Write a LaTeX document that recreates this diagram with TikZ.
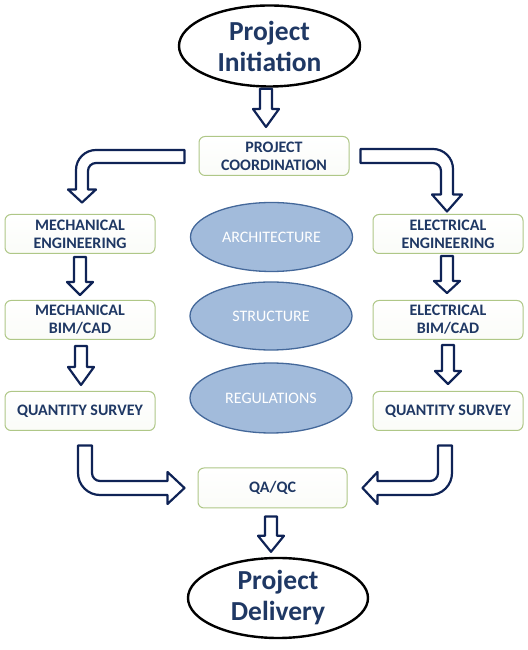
\documentclass[tikz,border=0pt]{standalone}
\usepackage{fontspec}
\setmainfont{Carlito}
\usetikzlibrary{shapes.geometric,calc}
\definecolor{navytext}{HTML}{1F3864}
\definecolor{arrowblue}{HTML}{0F2356}
\definecolor{boxline}{HTML}{AFC787}
\definecolor{ellfill}{HTML}{A2BBDB}
\definecolor{ellline}{HTML}{44689A}
\tikzset{
  endpoint/.style={ellipse, draw=black, line width=2.4pt, fill=white, inner sep=0pt,
    minimum width=181pt, minimum height=81pt, text=navytext, align=center,
    font=\fontsize{27.5}{31}\selectfont\bfseries},
  stepbox/.style={rectangle, rounded corners=6pt, draw=boxline, line width=1pt,
    top color=white, bottom color=white!94!boxline, minimum width=150pt, minimum height=39pt,
    inner sep=0pt, text=navytext, align=center, font=\fontsize{16}{18}\selectfont\bfseries},
  topic/.style={ellipse, draw=ellline, line width=1.3pt, fill=ellfill, inner sep=0pt,
    minimum width=162pt, minimum height=69pt, text=white, align=center,
    font=\fontsize{16}{18}\selectfont},
  barrow/.style={draw=arrowblue, fill=white, line width=2.2pt, line join=round}
}
% straight block arrow from node #1 (south) to node #2 (north) at x=#3
\newcommand{\vArrow}[6]{%
  \draw[barrow] let \p1=(#1.south), \p2=(#2.north) in
    (#3pt-6pt,\y1-#4pt) -- (#3pt+6pt,\y1-#4pt) -- (#3pt+6pt,\y2+#5pt+#6pt)
    -- (#3pt+13pt,\y2+#5pt+#6pt) -- (#3pt,\y2+#5pt) -- (#3pt-13pt,\y2+#5pt+#6pt)
    -- (#3pt-6pt,\y2+#5pt+#6pt) -- cycle;}
\begin{document}
\begin{tikzpicture}[x=1pt,y=1pt]
\useasboundingbox (0,0) rectangle (527,650);

% nodes
\node[endpoint] (init) at (269.5,604) {Project\\Initiation};
\node[stepbox] (coord) at (274,494) {PROJECT\\COORDINATION};
\node[stepbox] (meceng) at (80,416) {MECHANICAL\\ENGINEERING};
\node[stepbox] (elceng) at (448,416) {ELECTRICAL\\ENGINEERING};
\node[stepbox] (mecbim) at (80,330) {MECHANICAL\\BIM/CAD};
\node[stepbox] (elcbim) at (448,330) {ELECTRICAL\\BIM/CAD};
\node[stepbox] (mecqs) at (80,239) {QUANTITY SURVEY};
\node[stepbox] (elcqs) at (448,239) {QUANTITY SURVEY};
\node[stepbox, minimum width=149pt, minimum height=40pt] (qaqc) at (272.5,162) {QA/QC};
\node[endpoint, minimum width=180pt, minimum height=80pt] (deliv) at (278,52) {Project\\Delivery};

\node[topic] (arch) at (271.5,413) {ARCHITECTURE};
\node[topic, minimum height=68pt] (struct) at (271,334) {STRUCTURE};
\node[topic, minimum height=70pt] (regul) at (271,252) {REGULATIONS};

% straight block arrows
\vArrow{init}{coord}{266}{1}{9}{18}
\vArrow{meceng}{mecbim}{80}{3}{5}{13}
\vArrow{mecbim}{mecqs}{81}{6}{6}{18}
\vArrow{elceng}{elcbim}{447}{2}{7}{12}
\vArrow{elcbim}{elcqs}{448}{5}{7}{13}
\vArrow{qaqc}{deliv}{271}{8}{5}{16}

% bent arrow: coordination -> mechanical engineering
\draw[barrow] let \p1=(coord.west), \p2=(meceng.north) in
  (\x1-14pt,\y1+6pt) -- (96pt,\y1+6pt) arc[start angle=90,end angle=180,radius=20pt]
  -- (76pt,\y2+24.5pt) -- (68pt,\y2+24.5pt) -- (82pt,\y2+11.5pt) -- (96pt,\y2+24.5pt)
  -- (88pt,\y2+24.5pt) -- (88pt,\y1-15pt) arc[start angle=180,end angle=90,radius=8pt]
  -- (\x1-14pt,\y1-7pt) -- cycle;

% bent arrow: coordination -> electrical engineering
\draw[barrow] let \p1=(coord.east), \p2=(elceng.north) in
  (\x1+11pt,\y1+7pt) -- (433pt,\y1+7pt) arc[start angle=90,end angle=0,radius=20pt]
  -- (453pt,\y2+19.5pt) -- (462pt,\y2+19.5pt) -- (447pt,\y2+2.5pt) -- (432pt,\y2+19.5pt)
  -- (441pt,\y2+19.5pt) -- (441pt,\y1-15pt) arc[start angle=0,end angle=90,radius=8pt]
  -- (\x1+11pt,\y1-7pt) -- cycle;

% bent arrow: mechanical QS -> QA/QC
\draw[barrow] let \p1=(mecqs.south), \p2=(qaqc.west) in
  (78pt,\y1-14.5pt) -- (92pt,\y1-14.5pt) -- (92pt,\y2+15pt)
  arc[start angle=180,end angle=270,radius=8pt]
  -- (\x2-30pt,\y2+7pt) -- (\x2-30pt,\y2+16pt) -- (\x2-13pt,\y2) -- (\x2-30pt,\y2-16pt)
  -- (\x2-30pt,\y2-7pt) -- (100pt,\y2-7pt) arc[start angle=270,end angle=180,radius=22pt]
  -- cycle;

% bent arrow: electrical QS -> QA/QC
\draw[barrow] let \p1=(elcqs.south), \p2=(qaqc.east) in
  (438pt,\y1-14.5pt) -- (452pt,\y1-14.5pt) -- (452pt,\y2+15pt)
  arc[start angle=0,end angle=-90,radius=22pt]
  -- (\x2+30pt,\y2-7pt) -- (\x2+30pt,\y2-16pt) -- (\x2+15pt,\y2) -- (\x2+30pt,\y2+16pt)
  -- (\x2+30pt,\y2+7pt) -- (430pt,\y2+7pt) arc[start angle=270,end angle=360,radius=8pt]
  -- cycle;
\end{tikzpicture}
\end{document}
